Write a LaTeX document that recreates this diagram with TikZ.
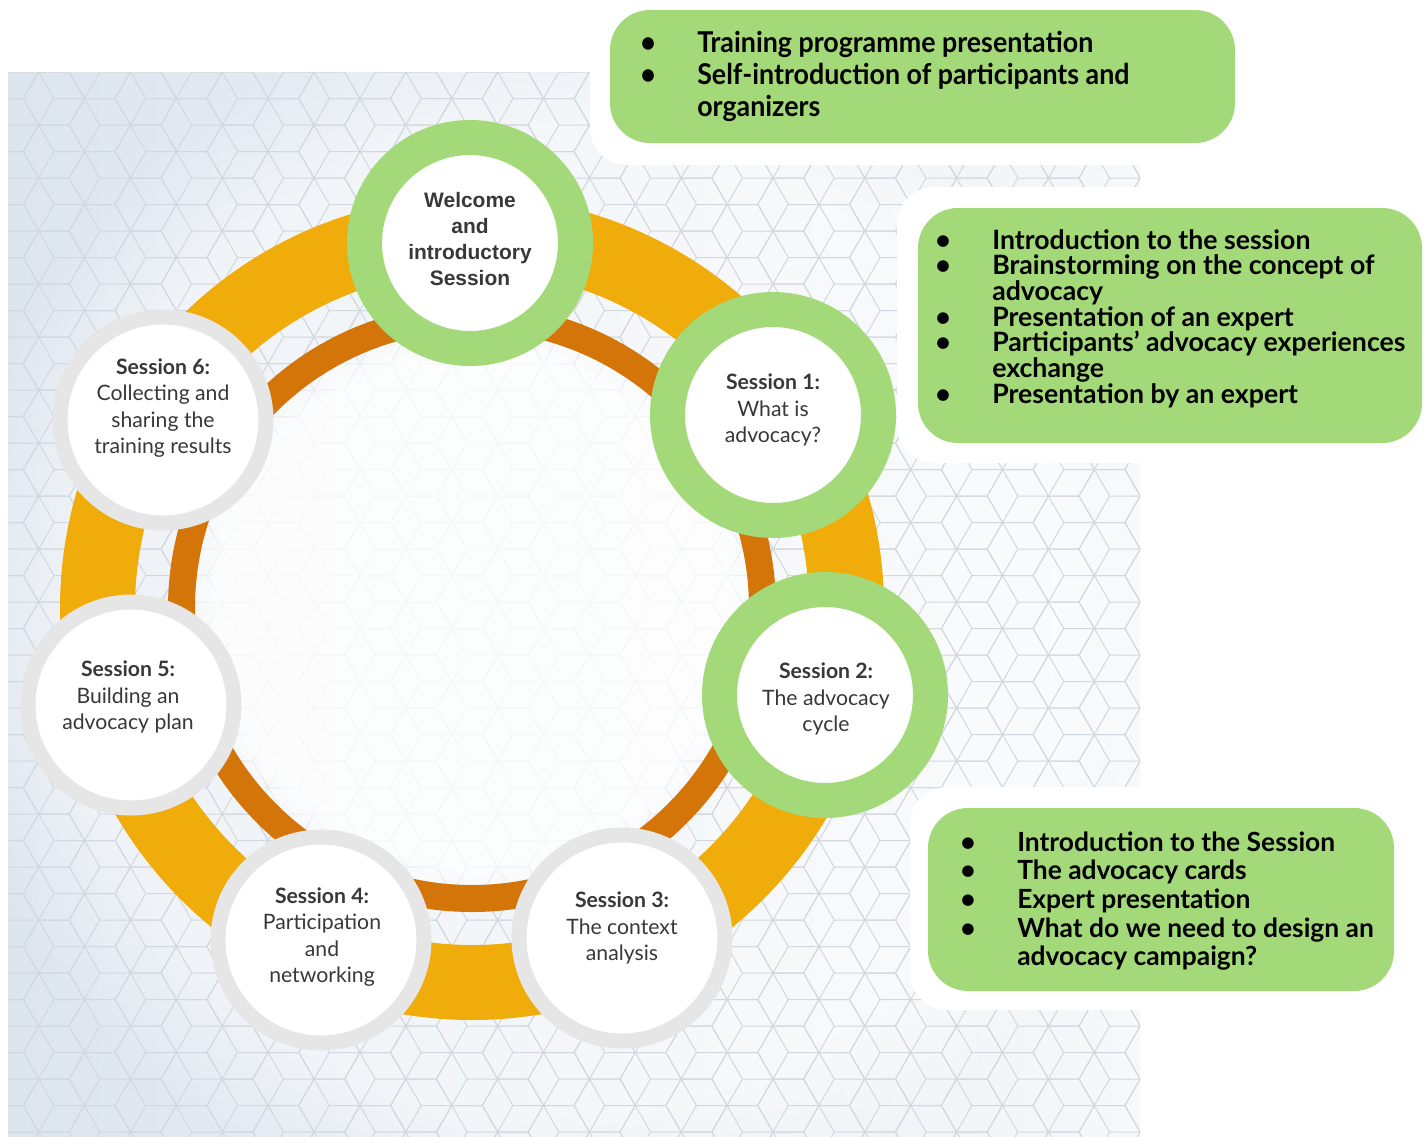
\documentclass[tikz,border=0pt]{standalone}
\usepackage{fontspec}
\setmainfont{Lato}
\newfontfamily\arialfont{Liberation Sans}
\newfontfamily\latocond{Lato}[FakeStretch=0.935]
\usetikzlibrary{fadings}
\definecolor{bgL}{HTML}{DDE5EE}
\definecolor{bgR}{HTML}{F6F8FA}
\definecolor{patline}{HTML}{D2D8DF}
\definecolor{orangeA}{HTML}{F0AC0B}
\definecolor{orangeB}{HTML}{D4750A}
\definecolor{ringgreen}{HTML}{A3D979}
\definecolor{ringgrey}{HTML}{E6E6E7}
\definecolor{sesstext}{HTML}{383838}
\newcommand\bitem[2]{\par\noindent\hangindent=#1\hangafter=1\makebox[#1][l]{\textbullet}#2}
\newenvironment{bulletblock}[1]{\begin{minipage}[t]{520pt}\raggedright\lineskiplimit=-20pt\lineskip=0pt\baselineskip=#1\relax}{\end{minipage}}
\tikzset{
  greenring/.style={circle, draw=ringgreen, line width=26.25pt, fill=white, minimum size=158.25pt, inner sep=0pt},
  greyring/.style={circle, draw=ringgrey, line width=11.25pt, fill=white, minimum size=154.5pt, inner sep=0pt},
  sesslabel/.style={align=center, text=sesstext, inner sep=0pt, font=\fontsize{15.9}{19.6}\selectfont},
  welcomelabel/.style={align=center, text=sesstext, inner sep=0pt, font=\arialfont\bfseries\fontsize{15.7}{19.6}\selectfont},
  backdrop/.style={fill=white, rounded corners=28pt},
  greenbox/.style={fill=ringgreen, rounded corners=30pt},
  boxtext/.style={anchor=base west, inner sep=0pt, text=black},
  pat/.style={draw=patline, line width=0.75pt}
}
\begin{document}
\begin{tikzpicture}[x=0.75pt,y=-0.75pt]
\useasboundingbox (0,0) rectangle (1427,1136);
% background panel with pattern
\begin{scope}
  \clip (8,72) rectangle (1140,1136);
  \shade[left color=bgL, right color=bgR] (8,72) rectangle (1140,1136);
  \fill[white, opacity=0.5, path fading=circle with fuzzy edge 20 percent] (560,620) circle[radius=620];
  \foreach \i in {0,...,25}{
    \foreach \j in {0,...,21}{
      \pgfmathsetmacro{\cx}{8+\i*45.9}
      \pgfmathsetmacro{\cy}{72+\j*53+mod(\i,2)*26.5}
      \draw[pat] (\cx,\cy) +(0:30.6) -- +(60:30.6) -- +(120:30.6) -- +(180:30.6) -- +(240:30.6) -- +(300:30.6) -- cycle
        (\cx,\cy) -- +(0:30.6) (\cx,\cy) -- +(120:30.6) (\cx,\cy) -- +(240:30.6);
    }
  }
  \fill[white, opacity=0.8, path fading=circle with fuzzy edge 15 percent] (472,608) circle[radius=300];
\end{scope}
% white backdrops of the text boxes
\fill[backdrop] (590,-40) rectangle (1265,165);
\fill[backdrop] (897,187) rectangle (1470,463);
\fill[backdrop] (910,787) rectangle (1470,1010);
% rings
\coordinate (ctr) at (472,608);
\fill[orangeA, even odd rule] (ctr) circle[radius=412] (ctr) circle[radius=337];
\fill[orangeB, even odd rule] (ctr) circle[radius=304] (ctr) circle[radius=277];
% session circles
\node[greenring] (w)  at (470,243) {};
\node[greenring] (s1) at (773,415) {};
\node[greenring] (s2) at (825,695) {};
\node[greyring]  (s3) at (622,938) {};
\node[greyring]  (s4) at (321,940) {};
\node[greyring]  (s5) at (131,705) {};
\node[greyring]  (s6) at (163,420) {};
% labels
\node[welcomelabel] (wl) at (470,239) {Welcome\\and\\introductory\\Session};
\node[sesslabel] (s1l) at (773,410) {\textbf{Session 1:}\\What is\\advocacy?};
\node[sesslabel] (s2l) at (826,699) {\textbf{Session 2:}\\The advocacy\\cycle};
\node[sesslabel] (s3l) at (622,928) {\textbf{Session 3:}\\The context\\analysis};
\node[sesslabel] (s4l) at (322,937) {\textbf{Session 4:}\\Participation\\and\\networking};
\node[sesslabel] (s5l) at (128,697) {\textbf{Session 5:}\\Building an\\advocacy plan};
\node[sesslabel] (s6l) at (163,408) {\textbf{Session 6:}\\Collecting and\\sharing the\\training results};
% green boxes
\fill[greenbox] (610,10) rectangle (1235,143);
\fill[greenbox] (918,208) rectangle (1422,443);
\fill[greenbox] (928,808) rectangle (1394,991);
\node[boxtext, font=\latocond\bfseries\fontsize{21.5}{24}\selectfont] (b1) at (640,52)
 {\begin{bulletblock}{24pt}
  \bitem{42.75pt}{Training programme presentation}
  \bitem{42.75pt}{Self-introduction of participants and\newline organizers}
  \end{bulletblock}};
\node[boxtext, font=\bfseries\fontsize{20}{19.3}\selectfont] (b2) at (935,249)
 {\begin{bulletblock}{19.3pt}
  \bitem{42.75pt}{Introduction to the session}
  \bitem{42.75pt}{Brainstorming on the concept of\newline advocacy}
  \bitem{42.75pt}{Presentation of an expert}
  \bitem{42.75pt}{Participants’ advocacy experiences\newline exchange}
  \bitem{42.75pt}{Presentation by an expert}
  \end{bulletblock}};
\node[boxtext, font=\bfseries\fontsize{19.8}{21.5}\selectfont] (b3) at (960,851)
 {\begin{bulletblock}{21.5pt}
  \bitem{42.75pt}{Introduction to the Session}
  \bitem{42.75pt}{The advocacy cards}
  \bitem{42.75pt}{Expert presentation}
  \bitem{42.75pt}{What do we need to design an\newline advocacy campaign?}
  \end{bulletblock}};
\end{tikzpicture}
\end{document}
